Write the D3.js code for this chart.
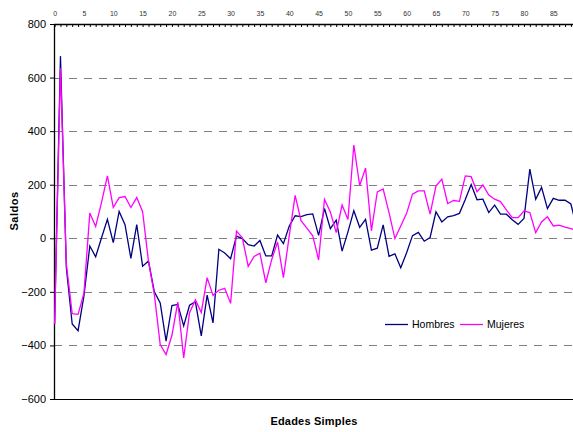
<!DOCTYPE html>
<html>
<head>
<meta charset="utf-8">
<script src="https://cdn.jsdelivr.net/npm/d3@7"></script>
<style>
  html, body { margin: 0; padding: 0; background: #fff; }
  svg { display: block; font-family: "Liberation Sans", Arial, sans-serif; }
</style>
</head>
<body>
<div id="chart"></div>
<script>
// Single-year ages (0..89)
const edades = d3.range(0, 90);

// Net balance by single year of age, men
const hombres = [
  -320, 680, -110, -320, -345, -215, -29, -69, 2, 71,
  -16, 100, 51, -75, 51, -104, -85, -200, -241, -384,
  -251, -247, -327, -250, -237, -364, -212, -316, -41, -55,
  -76, 8, -1, -24, -29, -8, -66, -66, 12, -20,
  46, 84, 81, 88, 91, 11, 111, 36, 68, -48,
  24, 103, 41, 71, -44, -37, 50, -67, -58, -110,
  -54, 10, 22, -11, 3, 99, 61, 80, 85, 93,
  145, 201, 144, 146, 96, 124, 90, 90, 69, 52,
  74, 258, 146, 190, 111, 149, 142, 142, 128, 40
];

// Net balance by single year of age, women
const mujeres = [
  -320, 636, -95, -281, -284, -205, 94, 44, 134, 233,
  115, 152, 156, 115, 152, 99, -85, -210, -397, -434,
  -362, -238, -447, -278, -230, -277, -147, -213, -194, -187,
  -243, 27, 2, -105, -68, -56, -166, -80, -14, -147,
  10, 160, 66, 38, 9, -81, 145, 98, 21, 124,
  70, 348, 197, 262, 28, 173, 184, 96, -1, 46,
  93, 165, 177, 177, 90, 195, 221, 130, 141, 138,
  233, 230, 174, 199, 161, 146, 137, 106, 77, 77,
  102, 96, 21, 61, 80, 46, 49, 42, 36, 30
];

const yTicks = [-600, -400, -200, 0, 200, 400, 600, 800];
const xTickLabels = d3.range(0, 90, 5);

const series = [
  { name: "Hombres", values: hombres, color: "#000080" },
  { name: "Mujeres", values: mujeres, color: "#FF00FF" }
];

const W = 573, H = 432;
const plotLeft = 54, plotTop = 24, plotBottom = 399, plotRight = 573;

const svg = d3.select("#chart").append("svg")
  .attr("width", W).attr("height", H);

const x = d3.scaleLinear().domain([0, 88]).range([plotLeft + 0.6, 570.9]);
const y = d3.scaleLinear().domain([-600, 800]).range([plotBottom, plotTop]);

// dashed horizontal gridlines
svg.append("g")
  .selectAll("line")
  .data(yTicks.filter(v => v > -600 && v < 800))
  .join("line")
  .attr("x1", plotLeft).attr("x2", plotRight)
  .attr("y1", d => Math.round(y(d)) + 0.5)
  .attr("y2", d => Math.round(y(d)) + 0.5)
  .attr("stroke", "#808080")
  .attr("stroke-width", 1)
  .attr("stroke-dasharray", "8,7");

// left value axis
const yAxis = svg.append("g")
  .attr("transform", `translate(${plotLeft},0)`)
  .call(d3.axisLeft(y).tickValues(yTicks).tickSize(4).tickPadding(4).tickFormat(d3.format("d")));
yAxis.select(".domain").remove();
yAxis.selectAll(".tick line").attr("stroke", "#000");
yAxis.selectAll("text")
  .attr("font-size", 11)
  .attr("fill", "#000")
  .attr("font-family", "'Liberation Sans', Arial, sans-serif");

// age axis along the top edge, labels every 5 years
const xAxis = svg.append("g")
  .attr("transform", `translate(0,${plotTop})`)
  .call(d3.axisTop(x).tickValues(xTickLabels).tickSize(0).tickPadding(8).tickFormat(d3.format("d")));
xAxis.select(".domain").remove();
xAxis.selectAll("text")
  .attr("font-size", 7)
  .attr("fill", "#333")
  .attr("font-family", "'Liberation Sans', Arial, sans-serif");

// one small tick per year hanging below the top axis
const minor = svg.append("g")
  .attr("transform", `translate(0,${plotTop})`)
  .call(d3.axisBottom(x).tickValues(edades).tickSize(3).tickFormat(""));
minor.select(".domain").remove();
minor.selectAll(".tick line").attr("stroke", "#000");

// frame lines: top, left, bottom
svg.append("line")
  .attr("x1", plotLeft).attr("x2", plotRight).attr("y1", plotTop + 0.5).attr("y2", plotTop + 0.5)
  .attr("stroke", "#000").attr("stroke-width", 1.5);
svg.append("line")
  .attr("x1", plotLeft + 0.5).attr("x2", plotLeft + 0.5).attr("y1", plotTop).attr("y2", plotBottom)
  .attr("stroke", "#000").attr("stroke-width", 1.3);
svg.append("line")
  .attr("x1", plotLeft).attr("x2", plotRight).attr("y1", plotBottom + 0.5).attr("y2", plotBottom + 0.5)
  .attr("stroke", "#000").attr("stroke-width", 1);

// series lines
const line = d3.line()
  .x((d, i) => x(edades[i]))
  .y(d => y(d));

svg.append("g")
  .selectAll("path")
  .data(series)
  .join("path")
  .attr("d", d => line(d.values))
  .attr("fill", "none")
  .attr("stroke", d => d.color)
  .attr("stroke-width", 1.3)
  .attr("stroke-linejoin", "miter");

// legend
const legendPos = [{ lx: 385, tx: 412 }, { lx: 460, tx: 487 }];
const legend = svg.append("g");
series.forEach((s, i) => {
  legend.append("line")
    .attr("x1", legendPos[i].lx).attr("x2", legendPos[i].lx + 23)
    .attr("y1", 324.5).attr("y2", 324.5)
    .attr("stroke", s.color).attr("stroke-width", 1.3);
  legend.append("text")
    .attr("x", legendPos[i].tx).attr("y", 328)
    .attr("font-size", 10.5)
    .attr("fill", "#000")
    .text(s.name);
});

// axis titles
svg.append("text")
  .attr("x", 314).attr("y", 425)
  .attr("text-anchor", "middle")
  .attr("font-size", 11).attr("font-weight", "bold")
  .attr("letter-spacing", 0.2)
  .text("Edades Simples");

svg.append("text")
  .attr("transform", "translate(18,211) rotate(-90)")
  .attr("text-anchor", "middle")
  .attr("font-size", 11).attr("font-weight", "bold")
  .attr("letter-spacing", 0.5)
  .text("Saldos");
</script>
</body>
</html>
